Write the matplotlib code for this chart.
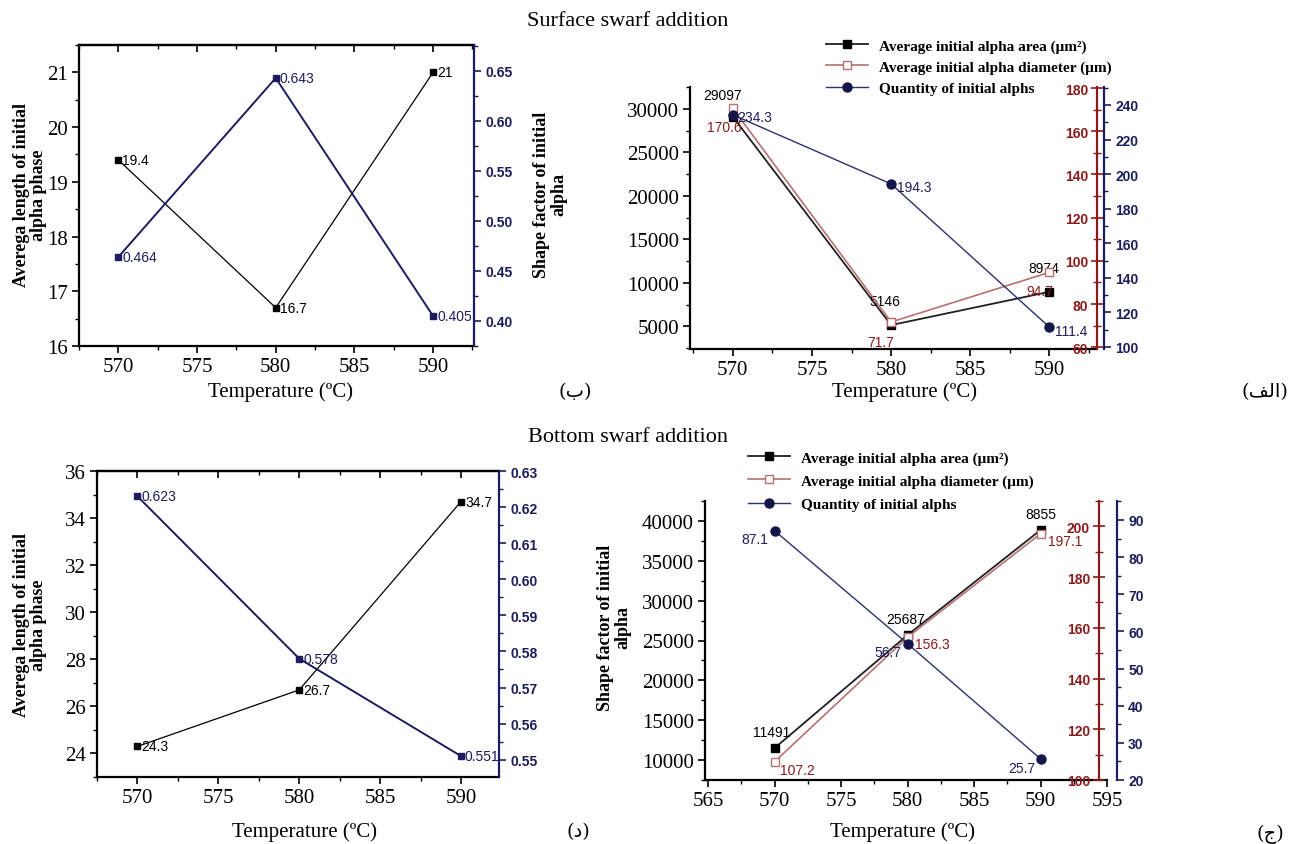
import matplotlib
matplotlib.use('Agg')
import matplotlib.pyplot as plt
from matplotlib.ticker import MultipleLocator
import numpy as np

# ---------------- data ----------------
temps = [570, 580, 590]

# (ب) surface swarf: length & shape factor
sur_length = [19.4, 16.7, 21.0]
sur_length_lbl = ['19.4', '16.7', '21']
sur_shape = [0.464, 0.643, 0.405]
sur_shape_lbl = ['0.464', '0.643', '0.405']

# (الف) surface swarf: area, diameter, quantity
sur_area = [29097, 5146, 8974]
sur_area_lbl = ['29097', '5146', '8974']
sur_diam = [170.6, 71.7, 94.7]
sur_diam_lbl = ['170.6', '71.7', '94.7']
sur_qty = [234.3, 194.3, 111.4]
sur_qty_lbl = ['234.3', '194.3', '111.4']

# (د) bottom swarf: length & shape factor
bot_length = [24.3, 26.7, 34.7]
bot_length_lbl = ['24.3', '26.7', '34.7']
bot_shape = [0.623, 0.578, 0.551]
bot_shape_lbl = ['0.623', '0.578', '0.551']

# (ج) bottom swarf: area, diameter, quantity
bot_area = [11491, 25687, 38855]
bot_area_lbl = ['11491', '25687', '8855']
bot_diam = [107.2, 156.3, 197.1]
bot_diam_lbl = ['107.2', '156.3', '197.1']
bot_qty = [87.1, 56.7, 25.7]
bot_qty_lbl = ['87.1', '56.7', '25.7']

legend_labels = ['Average initial alpha area (μm²)',
                 'Average initial alpha diameter (μm)',
                 'Quantity of initial alphs']

# ---------------- style ----------------
W, H = 1289, 845
plt.rcParams['font.family'] = ['Liberation Serif', 'DejaVu Sans']

NAVY = '#1c1c5e'
DRED = '#8b1a1a'
ROSY = '#b87070'
QNAVY = '#2c3170'
SERIF = ['Liberation Serif', 'DejaVu Sans']
SANS = 'Liberation Sans'
TICK_FS = 15
SMALL_FS = 10
LBL_FS = 10

fig = plt.figure(figsize=(W / 100, H / 100), dpi=100)


def rect(l, r, t, b):
    return [l / W, 1 - b / H, (r - l) / W, (b - t) / H]


def px(x, y):
    return x / W, 1 - y / H


def serif_ticks(ax):
    for lab in ax.get_xticklabels() + ax.get_yticklabels():
        lab.set_fontfamily(SERIF)
        lab.set_fontsize(TICK_FS)


def set_sans_yticks(ax, ticks, fmt, color):
    ax.set_yticks(ticks)
    ax.set_yticklabels([fmt.format(t) for t in ticks], fontfamily=SANS,
                       fontweight='bold', fontsize=SMALL_FS, color=color)


def label_points(ax, xs, ys, labels, dx, dy, color, ha='left', va='center'):
    for x, y, s in zip(xs, ys, labels):
        ax.annotate(s, (x, y), xytext=(dx, dy), textcoords='offset pixels',
                    ha=ha, va=va, fontsize=LBL_FS, fontfamily=SANS, color=color)


def left_panel(axrect, length, length_lbl, shape, shape_lbl, ylim, ymaj, ymin,
               y2lim, y2ticks, y2min, xlim):
    ax = fig.add_axes(rect(*axrect))
    ax.plot(temps, length, color='black', lw=0.9, marker='s', ms=4.5,
            mfc='black', mec='black', zorder=3)
    label_points(ax, temps, length, length_lbl, 4, 0, 'black')
    ax.set_xlim(*xlim)
    ax.set_ylim(*ylim)
    ax.xaxis.set_major_locator(MultipleLocator(5))
    ax.xaxis.set_minor_locator(MultipleLocator(2.5))
    ax.yaxis.set_major_locator(MultipleLocator(ymaj))
    ax.yaxis.set_minor_locator(MultipleLocator(ymin))
    ax.tick_params(which='major', direction='out', length=5, width=1.2,
                   labelsize=TICK_FS, pad=3)
    ax.tick_params(which='minor', direction='out', length=3, width=1.0)
    for s in ['left', 'bottom', 'top']:
        ax.spines[s].set_linewidth(1.6)
    ax.spines['right'].set_visible(False)
    top = ax.secondary_xaxis('top')
    top.xaxis.set_major_locator(MultipleLocator(5))
    top.xaxis.set_minor_locator(MultipleLocator(2.5))
    top.tick_params(which='major', direction='in', length=5, width=1.2, labeltop=False)
    top.tick_params(which='minor', direction='in', length=3, width=1.0)
    top.spines['top'].set_linewidth(1.6)
    serif_ticks(ax)

    ax2 = ax.twinx()
    for s in ['left', 'top', 'bottom']:
        ax2.spines[s].set_visible(False)
    ax2.spines['right'].set_color(NAVY)
    ax2.spines['right'].set_linewidth(1.6)
    ax2.plot(temps, shape, color=NAVY, lw=1.4, marker='s', ms=4.5,
             mfc=NAVY, mec=NAVY, zorder=3)
    label_points(ax2, temps, shape, shape_lbl, 4, 0, NAVY)
    ax2.set_ylim(*y2lim)
    ax2.yaxis.set_minor_locator(MultipleLocator(y2min))
    set_sans_yticks(ax2, y2ticks, '{:.2f}', NAVY)
    ax2.tick_params(axis='y', which='major', direction='out', length=5, width=1.2,
                    color=NAVY, pad=3)
    ax2.tick_params(axis='y', which='minor', direction='out', length=3, width=1.0,
                    color=NAVY)
    return ax, ax2


def right_panel(axrect, area, area_lbl, diam, diam_lbl, qty, qty_lbl,
                xlim, xmaj, ylim, ymaj, rlim, rticks, rmin, blim, bticks, bmin,
                roff, boff, lab_off):
    ax = fig.add_axes(rect(*axrect))
    l1, = ax.plot(temps, area, color='#202020', lw=1.3, marker='s', ms=6,
                  mfc='black', mec='black', zorder=3)
    ax.set_xlim(*xlim)
    ax.set_ylim(*ylim)
    ax.set_xticks(xmaj)
    ax.xaxis.set_minor_locator(MultipleLocator(2.5))
    ax.yaxis.set_major_locator(MultipleLocator(ymaj))
    ax.yaxis.set_minor_locator(MultipleLocator(ymaj / 2))
    ax.tick_params(which='major', direction='out', length=5, width=1.2,
                   labelsize=TICK_FS, pad=3)
    ax.tick_params(which='minor', direction='out', length=3, width=1.0)
    ax.spines['top'].set_visible(False)
    ax.spines['right'].set_visible(False)
    for s in ['left', 'bottom']:
        ax.spines[s].set_linewidth(1.6)
    serif_ticks(ax)

    axr = ax.twinx()
    for s in ['right', 'top', 'bottom']:
        axr.spines[s].set_visible(False)
    axr.spines['left'].set_visible(True)
    axr.spines['left'].set_position(('axes', roff))
    axr.spines['left'].set_color(DRED)
    axr.spines['left'].set_linewidth(1.6)
    axr.yaxis.set_ticks_position('left')
    l2, = axr.plot(temps, diam, color=ROSY, lw=1.2, marker='s', ms=6,
                   mfc='white', mec=ROSY, mew=1.0, zorder=3)
    axr.set_ylim(*rlim)
    axr.yaxis.set_minor_locator(MultipleLocator(rmin))
    set_sans_yticks(axr, rticks, '{:.0f}', DRED)
    axr.tick_params(axis='y', which='major', direction='inout', length=9, width=1.2,
                    color=DRED, pad=2)
    axr.tick_params(axis='y', which='minor', direction='inout', length=6, width=1.0,
                    color=DRED)

    axb = ax.twinx()
    for s in ['left', 'top', 'bottom']:
        axb.spines[s].set_visible(False)
    axb.spines['right'].set_position(('axes', boff))
    axb.spines['right'].set_color(NAVY)
    axb.spines['right'].set_linewidth(1.6)
    l3, = axb.plot(temps, qty, color=QNAVY, lw=1.0, marker='o', ms=6.5,
                   mfc='#15154a', mec='#15154a', zorder=3)
    axb.set_ylim(*blim)
    axb.yaxis.set_minor_locator(MultipleLocator(bmin))
    set_sans_yticks(axb, bticks, '{:.0f}', NAVY)
    axb.tick_params(axis='y', which='major', direction='out', length=5, width=1.2,
                    color=NAVY, pad=3)
    axb.tick_params(axis='y', which='minor', direction='out', length=3, width=1.0,
                    color=NAVY)

    (adx, ady, aha), (ddx, ddy, dha), (qdx, qdy, qha) = lab_off
    for i in range(3):
        ax.annotate(area_lbl[i], (temps[i], area[i]), xytext=(adx[i], ady[i]),
                    textcoords='offset pixels', ha=aha, va='center',
                    fontsize=LBL_FS, fontfamily=SANS, color='black', zorder=5)
        axr.annotate(diam_lbl[i], (temps[i], diam[i]), xytext=(ddx[i], ddy[i]),
                     textcoords='offset pixels', ha=dha, va='center',
                     fontsize=LBL_FS, fontfamily=SANS, color=DRED, zorder=5)
        axb.annotate(qty_lbl[i], (temps[i], qty[i]), xytext=(qdx[i], qdy[i]),
                     textcoords='offset pixels', ha=qha, va='center',
                     fontsize=LBL_FS, fontfamily=SANS, color=NAVY, zorder=5)
    return ax, [l1, l2, l3]


# ---------------- (ب) top-left ----------------
left_panel((79, 474, 46, 347), sur_length, sur_length_lbl, sur_shape, sur_shape_lbl,
           (16.0, 21.5), 1, 0.5, (0.375, 0.676),
           list(np.arange(0.40, 0.651, 0.05)), 0.025, (567.5, 592.6))

# ---------------- (د) bottom-left ----------------
left_panel((97, 499, 472, 778), bot_length, bot_length_lbl, bot_shape, bot_shape_lbl,
           (23.0, 36.0), 2, 1, (0.5452, 0.630),
           list(np.arange(0.55, 0.6301, 0.01)), 0.005, (567.5, 592.35))

# ---------------- (الف) top-right ----------------
ax_tr, h_tr = right_panel(
    (690, 1097, 88, 350), sur_area, sur_area_lbl, sur_diam, sur_diam_lbl,
    sur_qty, sur_qty_lbl,
    (567.3, 593.0), [570, 575, 580, 585, 590], (2400, 32500), 5000,
    (59.2, 180.5), list(range(60, 181, 20)), 10,
    (98.8, 250.4), list(range(100, 241, 20)), 10, 1.0, 1.018,
    (([-10, -6, -6], [22, 24, 24], 'center'),
     ([-8, -10, -10], [-19, -20, -19], 'center'),
     ([4, 6, 6], [-2, -3, -4], 'left')))

# ---------------- (ج) bottom-right ----------------
ax_br, h_br = right_panel(
    (705, 1107, 502, 781), bot_area, bot_area_lbl, bot_diam, bot_diam_lbl,
    bot_qty, bot_qty_lbl,
    (564.77, 595.0), [565, 570, 575, 580, 585, 590, 595], (7500, 42500), 5000,
    (100, 210), list(range(100, 201, 20)), 10,
    (20, 95.1), list(range(20, 91, 10)), 5, 0.980, 1.025,
    (([-3, -2, 0], [16, 16, 16], 'center'),
     ([5, 7, 7], [-8, -7, -7], 'left'),
     ([-6, -6, -5], [-8, -8, -9], 'right')))

# ---------------- legends ----------------
for handles, (lx, ly), sp in [(h_tr, (818, 32), 0.5), (h_br, (740, 444), 0.62)]:
    fig.legend(handles, legend_labels, loc='upper left',
               bbox_to_anchor=px(lx, ly), frameon=False, borderpad=0,
               handlelength=2.8, handletextpad=0.7, labelspacing=sp,
               prop={'family': SERIF, 'weight': 'bold', 'size': 11})

# ---------------- texts ----------------
fig.text(*px(628, 21), 'Surface swarf addition', ha='center', va='center',
         fontsize=16, fontfamily=SERIF)
fig.text(*px(628, 438), 'Bottom swarf addition', ha='center', va='center',
         fontsize=16, fontfamily=SERIF)

for x, y in [(280, 392), (905, 392), (305, 832), (902, 832)]:
    fig.text(*px(x, y), 'Temperature (ºC)', ha='center', va='center',
             fontsize=15, fontfamily=SERIF)

for x, y, s in [(575, 392, '(ب)'), (1265, 392, '(ﻒﻟﺍ)'),
                (578, 832, '(د)'), (1270, 834, '(ج)')]:
    fig.text(*px(x, y), s, ha='center', va='center', fontsize=14,
             fontfamily=['DejaVu Serif', 'DejaVu Sans'])

ylab_kw = dict(ha='center', va='center', rotation=90, fontsize=13,
               fontweight='bold', fontfamily=SERIF, multialignment='center',
               linespacing=1.0)
fig.text(*px(30, 195), 'Averega length of initial\nalpha phase', **ylab_kw)
fig.text(*px(30, 625), 'Averega length of initial\nalpha phase', **ylab_kw)
fig.text(*px(550, 195), 'Shape factor of initial\nalpha', **ylab_kw)
fig.text(*px(614, 628), 'Shape factor of initial\nalpha', **ylab_kw)

fig.savefig('out.png', dpi=100)
